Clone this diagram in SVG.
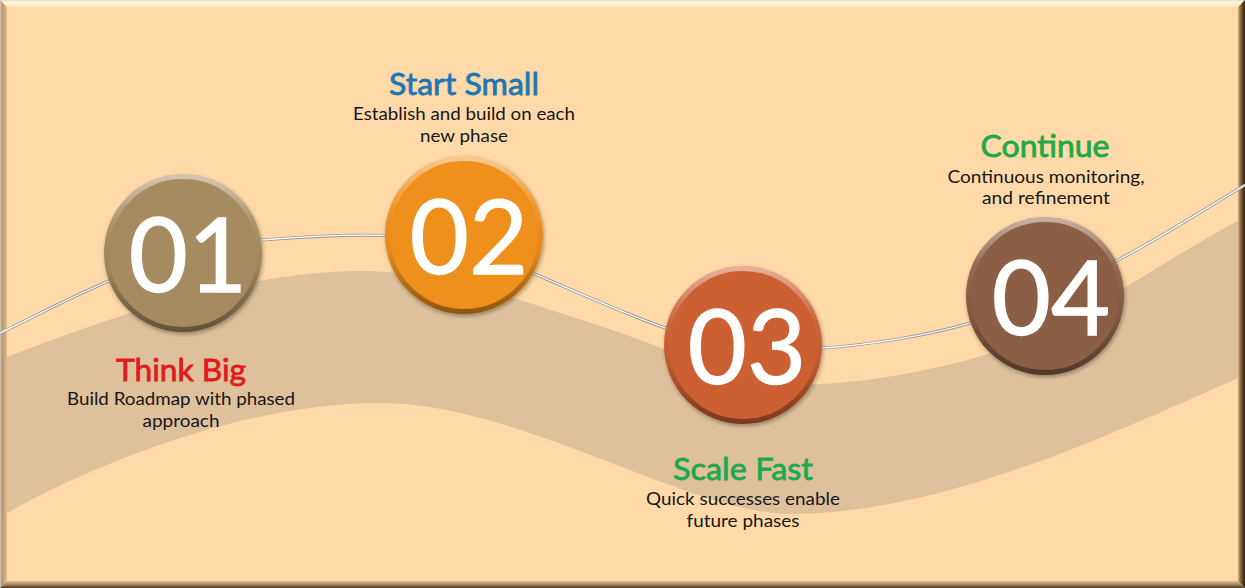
<svg xmlns="http://www.w3.org/2000/svg" width="1245" height="588" viewBox="0 0 1245 588">
<defs>
<style>
.num{font-family:Lato,"Liberation Sans",sans-serif;font-size:102px;fill:#ffffff;stroke:#ffffff;stroke-width:1.3;text-anchor:middle}
.title{font-family:Lato,"Liberation Sans",sans-serif;font-size:31px;stroke-width:0.8;text-anchor:middle}
.desc{font-family:Lato,"Liberation Sans",sans-serif;font-size:18px;fill:#161616;text-anchor:middle}
.rim{fill:none;stroke:url(#rimG);stroke-width:5}
.wire{fill:none;stroke:#9a9a9a;stroke-width:3}
.wire2{fill:none;stroke:#ffffff;stroke-width:1.3}
</style>
<linearGradient id="rimG" x1="0" y1="0" x2="0" y2="1">
<stop offset="0" stop-color="#ffffff" stop-opacity="0.5"/>
<stop offset="0.3" stop-color="#ffffff" stop-opacity="0.08"/>
<stop offset="0.6" stop-color="#000000" stop-opacity="0.05"/>
<stop offset="1" stop-color="#000000" stop-opacity="0.4"/>
</linearGradient>
<linearGradient id="topB" x1="0" y1="0" x2="0" y2="1">
<stop offset="0" stop-color="#E6DDCC"/><stop offset="0.35" stop-color="#FFF7D9"/><stop offset="1" stop-color="#FFE6BC"/>
</linearGradient>
<linearGradient id="leftB" x1="0" y1="0" x2="1" y2="0">
<stop offset="0" stop-color="#D2CCC2"/><stop offset="0.3" stop-color="#B8956A"/><stop offset="1" stop-color="#E2BC8C"/>
</linearGradient>
<linearGradient id="rightB" x1="0" y1="0" x2="1" y2="0">
<stop offset="0" stop-color="#D6AE7E"/><stop offset="0.55" stop-color="#6B4E30"/><stop offset="1" stop-color="#2B2118"/>
</linearGradient>
<linearGradient id="botB" x1="0" y1="0" x2="0" y2="1">
<stop offset="0" stop-color="#E4BE8E"/><stop offset="0.5" stop-color="#A88660"/><stop offset="1" stop-color="#4A3A2A"/>
</linearGradient>
<filter id="sh" x="-20%" y="-20%" width="140%" height="140%">
<feDropShadow dx="1" dy="2" stdDeviation="2" flood-color="#000000" flood-opacity="0.35"/>
</filter>
</defs>

<rect x="0" y="0" width="1245" height="588" fill="#FFDAA8"/>
<path id="band" fill="#DEC19C" d="M0,360 C100,320 250,268 370,271 C450,273 520,300 600,326 C680,352 740,385 790,385 C860,385 940,370 1000,350 C1080,322 1160,262 1245,217 L1245,375 C1130,425 950,514 790,514 C690,514 520,403 380,403 C250,403 100,460 0,517 Z"/>

<g id="frame">
<polygon points="0,0 1245,0 1238,7 7,7" fill="url(#topB)"/>
<polygon points="0,0 7,7 7,581 0,588" fill="url(#leftB)"/>
<polygon points="0,588 7,581 1238,581 1245,588" fill="url(#botB)"/>
<polygon points="1245,0 1238,7 1238,581 1245,588" fill="url(#rightB)"/>
</g>

<g id="connectors">
<path class="wire" d="M0,333 C60,305 150,250 262,240 C310,236 360,234 400,236 C460,240 500,258 537,275 C600,302 640,320 680,333 C720,345 780,352 822,348 C870,345 930,335 970,323 C1030,305 1080,280 1118,260 C1160,238 1200,212 1245,185"/>
<path class="wire2" d="M0,333 C60,305 150,250 262,240 C310,236 360,234 400,236 C460,240 500,258 537,275 C600,302 640,320 680,333 C720,345 780,352 822,348 C870,345 930,335 970,323 C1030,305 1080,280 1118,260 C1160,238 1200,212 1245,185"/>
</g>

<g id="node01">
<circle cx="183" cy="253" r="79" fill="#A58B5F" filter="url(#sh)"/>
<circle cx="183" cy="253" r="76.5" class="rim"/>
<text class="num" x="188" y="292">01</text>
<text class="title" x="181" y="381" fill="#E01B1B" stroke="#E01B1B" textLength="130" lengthAdjust="spacingAndGlyphs">Think Big</text>
<text class="desc" x="181" y="405" textLength="228" lengthAdjust="spacingAndGlyphs">Build Roadmap with phased</text>
<text class="desc" x="181" y="427" textLength="77" lengthAdjust="spacingAndGlyphs">approach</text>
</g>

<g id="node02">
<circle cx="464" cy="235" r="79" fill="#F0901C" filter="url(#sh)"/>
<circle cx="464" cy="235" r="76.5" class="rim"/>
<text class="num" x="469" y="274">02</text>
<text class="title" x="464" y="95" fill="#1F78B4" stroke="#1F78B4" textLength="150" lengthAdjust="spacingAndGlyphs">Start Small</text>
<text class="desc" x="464" y="120" textLength="222" lengthAdjust="spacingAndGlyphs">Establish and build on each</text>
<text class="desc" x="464" y="142" textLength="88" lengthAdjust="spacingAndGlyphs">new phase</text>
</g>

<g id="node03">
<circle cx="743" cy="345" r="79" fill="#CC6133" filter="url(#sh)"/>
<circle cx="743" cy="345" r="76.5" class="rim"/>
<text class="num" x="747" y="384">03</text>
<text class="title" x="743" y="480" fill="#1FA84F" stroke="#1FA84F" textLength="140" lengthAdjust="spacingAndGlyphs">Scale Fast</text>
<text class="desc" x="743" y="505" textLength="194" lengthAdjust="spacingAndGlyphs">Quick successes enable</text>
<text class="desc" x="743" y="527" textLength="113" lengthAdjust="spacingAndGlyphs">future phases</text>
</g>

<g id="node04">
<circle cx="1045" cy="296" r="79" fill="#8B5E45" filter="url(#sh)"/>
<circle cx="1045" cy="296" r="76.5" class="rim"/>
<text class="num" x="1051" y="335">04</text>
<text class="title" x="1045" y="157" fill="#22A84A" stroke="#22A84A" textLength="129" lengthAdjust="spacingAndGlyphs">Continue</text>
<text class="desc" x="1046" y="183" textLength="197" lengthAdjust="spacingAndGlyphs">Continuous monitoring,</text>
<text class="desc" x="1046" y="204" textLength="128" lengthAdjust="spacingAndGlyphs">and refinement</text>
</g>
</svg>
